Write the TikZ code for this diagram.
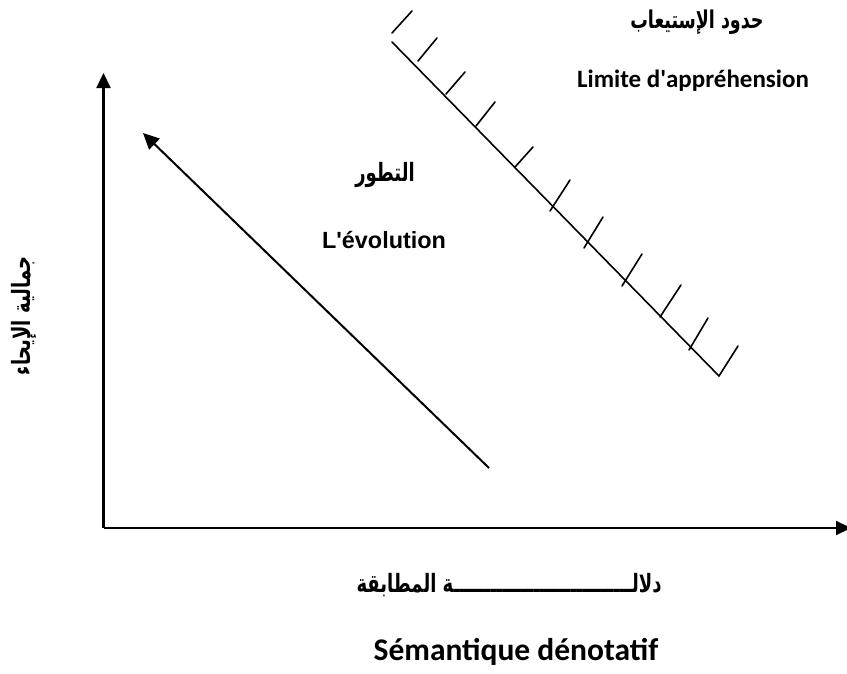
\documentclass[tikz,border=0pt]{standalone}
\usepackage{fontspec}
\setmainfont{Liberation Sans}
\newfontfamily\arabicfont[Script=Arabic]{DejaVu Sans}
\newfontfamily\calibrifont{Carlito}
\TeXXeTstate=1
\usetikzlibrary{arrows.meta}
\newcommand{\artall}[1]{\scalebox{1}[1.4]{\beginR #1\endR}}

\begin{document}
\begin{tikzpicture}[x=1pt, y=-1pt,
  axisline/.style={draw=black, line width=2.2pt, -{Triangle[length=15pt, width=14pt]}},
  evolline/.style={draw=black, line width=2pt, -{Triangle[length=16pt, width=15pt]}},
  limline/.style={draw=black, line width=1.6pt, line cap=round},
  arlbl/.style={font=\arabicfont\bfseries\fontsize{18pt}{22pt}\selectfont, inner sep=0pt},
  frlbl/.style={font=\calibrifont\bfseries\fontsize{25pt}{30pt}\selectfont, inner sep=0pt},
  arllbl/.style={font=\bfseries\fontsize{23.4pt}{28pt}\selectfont, inner sep=0pt}
]
\useasboundingbox (0,0) rectangle (847,673);

\coordinate (orig) at (103.5,528);
\coordinate (ytip) at (103.5,73);
\coordinate (xtip) at (851,528);
\coordinate (evs) at (489,468);
\coordinate (eve) at (143,133);
\coordinate (lima) at (392,42);
\coordinate (limb) at (719,376);

\draw[axisline] (orig) -- (ytip);
\draw[axisline] (orig) -- (xtip);
\draw[evolline] (evs) -- (eve);
\draw[limline] (lima) -- (limb);

\draw[limline] (392,33) -- (412,11);
\draw[limline] (418,61) -- (437,38);
\draw[limline] (446,94) -- (465,72);
\draw[limline] (476,126) -- (495,102);
\draw[limline] (515,167) -- (533,147);
\draw[limline] (550,211) -- (570,180);
\draw[limline] (584,248) -- (603,217);
\draw[limline] (622,286) -- (642,254);
\draw[limline] (660,317) -- (681,285);
\draw[limline] (689,350) -- (708,318);
\draw[limline] (719,376) -- (738,346);

\node[arlbl, font=\arabicfont\bfseries\fontsize{17.5pt}{22pt}\selectfont] (limar) at (697,22) {\artall{حدود الإستيعاب}};
\node[frlbl, anchor=base] (limfr) at (693,87) {Limite d\textquotesingle appréhension};
\node[arlbl] (evar) at (385,175) {\artall{التطور}};
\node[arllbl, anchor=base] (evfr) at (384,248) {L\textquotesingle évolution};
\node[arlbl, rotate=90] (yar) at (24,316) {\artall{جمالية الإيحاء}};
\node[arlbl] (xar) at (509,585) {\artall{دلالـــــــــــــــــــــــــــــة المطابقة}};
\node[frlbl, anchor=base, font=\calibrifont\bfseries\fontsize{31.5pt}{36pt}\selectfont] (xfr) at (516,660) {Sémantique dénotatif};

\end{tikzpicture}
\end{document}
